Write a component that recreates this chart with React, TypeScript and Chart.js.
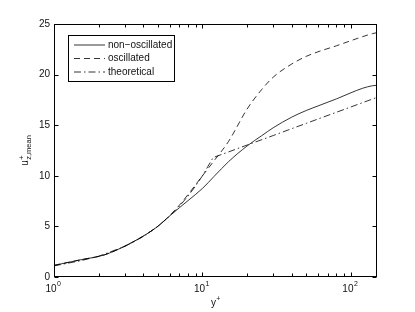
import React, { useEffect, useRef } from "react";
import { Chart, registerables } from "chart.js";

Chart.register(...registerables);

// ---- data ----
const yPlus = [1, 1.5, 2.2, 3, 4, 5, 6, 7, 8, 10, 12, 15, 20, 25, 30, 40, 50, 60, 80, 100, 120, 140, 150];
const nonOscillated = [1.15, 1.69, 2.2, 3.05, 4.05, 5.0, 6.02, 6.85, 7.55, 8.75, 9.95, 11.4, 12.95, 13.95, 14.75, 15.8, 16.45, 16.9, 17.6, 18.2, 18.65, 18.9, 18.95];
const oscillated = [1.15, 1.69, 2.2, 3.05, 4.05, 5.0, 6.05, 7.1, 8.15, 10.0, 11.5, 13.4, 16.6, 18.5, 19.75, 21.05, 21.8, 22.25, 22.85, 23.35, 23.75, 24.05, 24.15];
const theoryYPlus = [1, 1.5, 2, 3, 4, 5, 6, 7, 8, 9, 10, 11.8, 15, 20, 30, 40, 50, 60, 80, 100, 120, 150];
const theoretical = [1.1, 1.6, 2.05, 3.02, 4.0, 5.0, 6.0, 7.0, 8.0, 9.0, 10.0, 11.8, 12.36, 13.04, 13.98, 14.66, 15.18, 15.61, 16.28, 16.8, 17.23, 17.75];

const seriesLabels = ["non\u2212oscillated", "oscillated", "theoretical"];
const seriesDashes = [[], [6, 4], [7, 3, 1.5, 3]];

const yTickValues = [0, 5, 10, 15, 20, 25];
const xTickValues = [1, 10, 100];
const xTickExponents = ["0", "1", "2"];
const xMinorValues = [2, 3, 4, 5, 6, 7, 8, 9, 20, 30, 40, 50, 60, 70, 80, 90];
const xAxisTitle = { base: "y", sup: "+" };
const yAxisTitle = { base: "u", sup: "+", sub: "z,mean" };

const FONT = '"Liberation Sans", Arial, Helvetica, sans-serif';
const TEXT = "#111";

const matlabAxes = {
  id: "matlabAxes",
  afterDraw(chart: any) {
    const { ctx, chartArea: ca, scales } = chart;
    const xs = scales.x;
    const ys = scales.y;
    ctx.save();
    const L = Math.round(ca.left) + 0.5;
    const R = Math.round(ca.right) - 0.5;
    const T = Math.round(ca.top) + 0.5;
    const B = Math.round(ca.bottom) - 0.5;

    // box
    ctx.strokeStyle = "#000";
    ctx.lineWidth = 1;
    ctx.setLineDash([]);
    ctx.strokeRect(L, T, R - L, B - T);

    // y ticks (inward, both sides)
    ctx.beginPath();
    yTickValues.forEach((v) => {
      const py = Math.round(ys.getPixelForValue(v)) + 0.5;
      ctx.moveTo(L, py);
      ctx.lineTo(L + 4, py);
      ctx.moveTo(R, py);
      ctx.lineTo(R - 4, py);
    });
    // x ticks
    xTickValues.forEach((v) => {
      const px = Math.round(xs.getPixelForValue(v)) + 0.5;
      ctx.moveTo(px, B);
      ctx.lineTo(px, B - 4);
      ctx.moveTo(px, T);
      ctx.lineTo(px, T + 4);
    });
    xMinorValues.forEach((v) => {
      const px = Math.round(xs.getPixelForValue(v)) + 0.5;
      ctx.moveTo(px, B);
      ctx.lineTo(px, B - 3);
      ctx.moveTo(px, T);
      ctx.lineTo(px, T + 3);
    });
    ctx.stroke();

    // x tick labels 10^n
    ctx.fillStyle = TEXT;
    ctx.textBaseline = "alphabetic";
    ctx.textAlign = "left";
    xTickValues.forEach((v, i) => {
      const px = xs.getPixelForValue(v);
      ctx.font = `10px ${FONT}`;
      const w1 = ctx.measureText("10").width;
      ctx.font = `7px ${FONT}`;
      const w2 = ctx.measureText(xTickExponents[i]).width;
      const x0 = px - (w1 + w2) / 2 - 1;
      ctx.font = `10px ${FONT}`;
      ctx.fillText("10", x0, 292);
      ctx.font = `7px ${FONT}`;
      ctx.fillText(xTickExponents[i], x0 + w1 + 0.5, 286);
    });

    // x axis title
    {
      const cx = (ca.left + ca.right) / 2;
      ctx.font = `10px ${FONT}`;
      const w1 = ctx.measureText(xAxisTitle.base).width;
      ctx.font = `7px ${FONT}`;
      const w2 = ctx.measureText(xAxisTitle.sup).width;
      const x0 = cx - (w1 + w2) / 2;
      ctx.font = `10px ${FONT}`;
      ctx.fillText(xAxisTitle.base, x0, 306);
      ctx.font = `7px ${FONT}`;
      ctx.fillText(xAxisTitle.sup, x0 + w1 + 0.3, 301);
    }

    // y axis title (rotated)
    {
      const cy = (ca.top + ca.bottom) / 2;
      ctx.save();
      ctx.translate(28, cy);
      ctx.rotate(-Math.PI / 2);
      ctx.font = `10px ${FONT}`;
      const wu = ctx.measureText(yAxisTitle.base).width;
      ctx.font = `7.5px ${FONT}`;
      const wsub = ctx.measureText(yAxisTitle.sub).width;
      const wsup = ctx.measureText(yAxisTitle.sup).width;
      const total = wu + 0.5 + Math.max(wsub, wsup);
      const x0 = -total / 2;
      ctx.font = `10px ${FONT}`;
      ctx.fillText(yAxisTitle.base, x0, 0);
      ctx.font = `7.5px ${FONT}`;
      ctx.fillText(yAxisTitle.sub, x0 + wu + 0.5, 2.5);
      ctx.fillText(yAxisTitle.sup, x0 + wu + 0.5, -4.5);
      ctx.restore();
    }

    // legend box
    {
      const bx = 68.5, by = 35.5, bw = 106, bh = 46;
      ctx.fillStyle = "#fff";
      ctx.fillRect(bx, by, bw, bh);
      ctx.strokeStyle = "#000";
      ctx.lineWidth = 1;
      ctx.setLineDash([]);
      ctx.strokeRect(bx, by, bw, bh);
      const rows = [45, 58.5, 72];
      chart.data.datasets.forEach((ds: any, i: number) => {
        const y = rows[i];
        ctx.strokeStyle = ds.borderColor;
        ctx.lineWidth = ds.borderWidth;
        ctx.setLineDash(ds.borderDash || []);
        ctx.beginPath();
        ctx.moveTo(74, y);
        ctx.lineTo(105, y);
        ctx.stroke();
        ctx.setLineDash([]);
        ctx.fillStyle = TEXT;
        ctx.font = `10px ${FONT}`;
        ctx.textBaseline = "middle";
        ctx.fillText(ds.label, 108, y);
      });
    }
    ctx.restore();
  },
};

export default function App() {
  const ref = useRef<HTMLCanvasElement | null>(null);
  useEffect(() => {
    document.body.style.margin = "0";
    const canvas = ref.current;
    if (!canvas) return;
    const toPts = (xs: number[], ys: number[]) => xs.map((x, i) => ({ x, y: ys[i] }));
    const lineColor = "#000";
    const chart = new Chart(canvas, {
      type: "line",
      data: {
        datasets: [
          {
            label: seriesLabels[0],
            data: toPts(yPlus, nonOscillated),
            borderColor: lineColor,
            borderWidth: 0.8,
            borderDash: seriesDashes[0],
            pointRadius: 0,
            cubicInterpolationMode: "monotone",
            fill: false,
          },
          {
            label: seriesLabels[1],
            data: toPts(yPlus, oscillated),
            borderColor: lineColor,
            borderWidth: 0.8,
            borderDash: seriesDashes[1],
            pointRadius: 0,
            cubicInterpolationMode: "monotone",
            fill: false,
          },
          {
            label: seriesLabels[2],
            data: toPts(theoryYPlus, theoretical),
            borderColor: lineColor,
            borderWidth: 0.8,
            borderDash: seriesDashes[2],
            pointRadius: 0,
            tension: 0,
            fill: false,
          },
        ],
      },
      options: {
        animation: false,
        responsive: false,
        devicePixelRatio: 1,
        layout: { padding: { top: 24, right: 38, bottom: 0, left: 0 } },
        plugins: { legend: { display: false }, tooltip: { enabled: false } },
        events: [],
        scales: {
          x: {
            type: "logarithmic",
            min: 1,
            max: 150,
            grid: { display: false },
            border: { display: false },
            ticks: { display: false },
            afterFit: (s: any) => {
              s.height = 35;
            },
          },
          y: {
            type: "linear",
            min: 0,
            max: 25,
            grid: { display: false, drawTicks: false },
            border: { display: false },
            ticks: {
              stepSize: 5,
              padding: 4,
              color: TEXT,
              font: { family: FONT, size: 10 },
            },
            afterFit: (s: any) => {
              s.width = 54;
            },
          },
        },
      },
      plugins: [matlabAxes],
    } as any);
    return () => chart.destroy();
  }, []);
  return (
    <div style={{ position: "absolute", left: 0, top: 0, width: 415, height: 312, background: "#fff" }}>
      <canvas ref={ref} width={415} height={312} />
    </div>
  );
}
